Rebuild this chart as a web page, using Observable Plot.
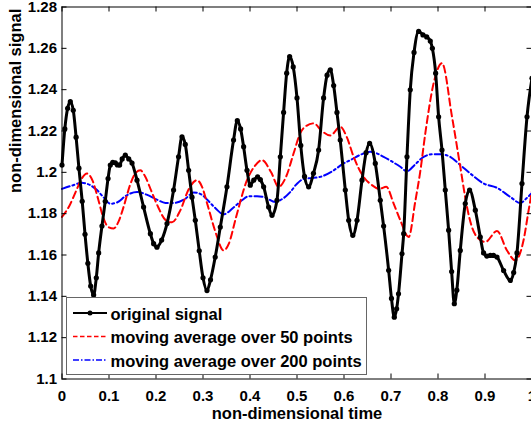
<!DOCTYPE html>
<html><head><meta charset="utf-8">
<script src="https://cdn.jsdelivr.net/npm/d3@7"></script>
<script src="https://cdn.jsdelivr.net/npm/@observablehq/plot@0.6"></script>
<style>
html,body{margin:0;padding:0;overflow:hidden;background:#fff;}
#wrap{position:relative;width:531px;height:427px;overflow:hidden;}
#wrap svg{max-width:none !important;}
#wrap svg.overlay{position:absolute;left:0;top:0;pointer-events:none;}
</style></head><body><div id="wrap"></div>
<script>
// original signal
const sigX = [0, 0.006, 0.012, 0.0177, 0.024, 0.030, 0.036, 0.043, 0.049, 0.055, 0.061, 0.0673, 0.073, 0.078, 0.085, 0.092, 0.098, 0.1028, 0.108, 0.1134, 0.118, 0.1226, 0.128, 0.1347, 0.142, 0.149, 0.1596, 0.1736, 0.188, 0.195, 0.202, 0.212, 0.2234, 0.2374, 0.248, 0.2553, 0.2623, 0.2694, 0.2766, 0.2836, 0.292, 0.300, 0.3085, 0.316, 0.326, 0.3368, 0.351, 0.365, 0.373, 0.380, 0.3864, 0.3936, 0.4006, 0.408, 0.4162, 0.422, 0.429, 0.4396, 0.4468, 0.4574, 0.4645, 0.4715, 0.478, 0.4843, 0.492, 0.500, 0.508, 0.516, 0.5247, 0.535, 0.546, 0.5566, 0.564, 0.5709, 0.578, 0.585, 0.592, 0.6028, 0.61, 0.6187, 0.6277, 0.6383, 0.647, 0.6545, 0.6666, 0.6772, 0.6843, 0.695, 0.701, 0.707, 0.712, 0.716, 0.7234, 0.727, 0.734, 0.741, 0.749, 0.7588, 0.768, 0.776, 0.7836, 0.788, 0.795, 0.8013, 0.8085, 0.8155, 0.8226, 0.829, 0.8347, 0.840, 0.8474, 0.858, 0.8672, 0.8794, 0.89, 0.897, 0.904, 0.9113, 0.918, 0.9255, 0.9396, 0.9538, 0.961, 0.968, 0.9787, 0.9894, 1.0];
const sigY = [1.2035, 1.221, 1.231, 1.2342, 1.230, 1.217, 1.202, 1.186, 1.170, 1.156, 1.145, 1.1407, 1.149, 1.161, 1.174, 1.186, 1.197, 1.2035, 1.2048, 1.2046, 1.2036, 1.2035, 1.2065, 1.2083, 1.2065, 1.2045, 1.1962, 1.1832, 1.1703, 1.1655, 1.1638, 1.1672, 1.1752, 1.1914, 1.2075, 1.2172, 1.2135, 1.201, 1.188, 1.1768, 1.162, 1.149, 1.1428, 1.148, 1.159, 1.1735, 1.193, 1.2156, 1.2250, 1.221, 1.2124, 1.201, 1.1938, 1.1962, 1.1978, 1.1965, 1.193, 1.1832, 1.1792, 1.1865, 1.2075, 1.229, 1.248, 1.256, 1.251, 1.236, 1.213, 1.198, 1.193, 1.1995, 1.2108, 1.236, 1.247, 1.2496, 1.242, 1.229, 1.2156, 1.1914, 1.1768, 1.1695, 1.1768, 1.1962, 1.2095, 1.214, 1.2043, 1.1865, 1.174, 1.1526, 1.139, 1.1299, 1.134, 1.1412, 1.1606, 1.1703, 1.2075, 1.2399, 1.258, 1.2682, 1.2665, 1.2655, 1.2635, 1.2600, 1.248, 1.2269, 1.2108, 1.1914, 1.172, 1.152, 1.1364, 1.143, 1.1622, 1.1849, 1.1914, 1.1817, 1.1687, 1.161, 1.1595, 1.1598, 1.1598, 1.159, 1.1525, 1.1477, 1.1515, 1.161, 1.1946, 1.2269, 1.2455];
// moving average over 50 points
const ma50X = [0, 0.015, 0.03, 0.042, 0.0532, 0.065, 0.077, 0.088, 0.0985, 0.1098, 0.12, 0.132, 0.145, 0.156, 0.1666, 0.177, 0.19, 0.205, 0.22, 0.234, 0.2517, 0.27, 0.2872, 0.298, 0.31, 0.326, 0.3438, 0.355, 0.37, 0.3936, 0.41, 0.4255, 0.445, 0.4609, 0.477, 0.4928, 0.507, 0.52, 0.5354, 0.553, 0.5709, 0.592, 0.606, 0.6205, 0.6417, 0.6596, 0.675, 0.69, 0.7056, 0.7198, 0.7375, 0.7517, 0.762, 0.773, 0.7907, 0.8085, 0.8298, 0.8474, 0.8617, 0.873, 0.883, 0.9006, 0.9255, 0.9468, 0.9645, 0.982, 0.9928, 1.0];
const ma50Y = [1.1784, 1.1835, 1.191, 1.197, 1.1994, 1.196, 1.187, 1.178, 1.1735, 1.1728, 1.176, 1.184, 1.194, 1.1995, 1.201, 1.198, 1.191, 1.183, 1.177, 1.1758, 1.1816, 1.192, 1.1962, 1.193, 1.184, 1.1715, 1.1622, 1.1655, 1.178, 1.1962, 1.203, 1.2059, 1.200, 1.193, 1.198, 1.2092, 1.219, 1.2225, 1.2237, 1.220, 1.2178, 1.2221, 1.217, 1.2075, 1.1978, 1.1938, 1.192, 1.193, 1.1849, 1.1768, 1.1687, 1.186, 1.200, 1.2189, 1.2431, 1.2528, 1.2269, 1.2027, 1.1832, 1.173, 1.1687, 1.1663, 1.1716, 1.1622, 1.1574, 1.1671, 1.1816, 1.191];
// moving average over 200 points
const ma200X = [0, 0.02, 0.0425, 0.06, 0.0745, 0.09, 0.1028, 0.118, 0.135, 0.1596, 0.18, 0.202, 0.22, 0.2374, 0.2623, 0.28, 0.295, 0.31, 0.327, 0.3438, 0.365, 0.383, 0.397, 0.415, 0.4326, 0.4538, 0.47, 0.4858, 0.5, 0.514, 0.53, 0.5496, 0.575, 0.5992, 0.6134, 0.635, 0.656, 0.6843, 0.7, 0.7198, 0.734, 0.75, 0.7694, 0.79, 0.805, 0.826, 0.8474, 0.87, 0.897, 0.9255, 0.9538, 0.975, 0.99, 1.0];
const ma200Y = [1.1920, 1.1935, 1.1949, 1.1938, 1.1914, 1.1875, 1.1848, 1.1855, 1.1885, 1.1905, 1.1892, 1.1868, 1.1852, 1.1852, 1.1872, 1.1903, 1.1895, 1.1865, 1.1825, 1.1797, 1.183, 1.1865, 1.1884, 1.1884, 1.1878, 1.1857, 1.1873, 1.1905, 1.1945, 1.1968, 1.1972, 1.1978, 1.2005, 1.2043, 1.2059, 1.2085, 1.2100, 1.2075, 1.2055, 1.2027, 1.2005, 1.2035, 1.2075, 1.2088, 1.2088, 1.2075, 1.2035, 1.1992, 1.1946, 1.1925, 1.1881, 1.1852, 1.1878, 1.190];

const xTicks = [0, 0.1, 0.2, 0.3, 0.4, 0.5, 0.6, 0.7, 0.8, 0.9, 1];
const xTickLabels = ["0", "0.1", "0.2", "0.3", "0.4", "0.5", "0.6", "0.7", "0.8", "0.9", "1"];
const yTicks = [1.1, 1.12, 1.14, 1.16, 1.18, 1.2, 1.22, 1.24, 1.26, 1.28];
const yTickLabels = ["1.1", "1.12", "1.14", "1.16", "1.18", "1.2", "1.22", "1.24", "1.26", "1.28"];
const seriesNames = ["original signal", "moving average over 50 points", "moving average over 200 points"];
const xLabel = "non-dimensional time";
const yLabel = "non-dimensional signal";

const sig = sigX.map((x, i) => ({x, y: sigY[i]}));
const ma50 = ma50X.map((x, i) => ({x, y: ma50Y[i]}));
const ma200 = ma200X.map((x, i) => ({x, y: ma200Y[i]}));

const FONT = '"Liberation Sans", Arial, Helvetica, sans-serif';
const W = 545, H = 427, ML = 61.5, MR = 13.5, MT = 6.5, MB = 48.5;
const PW = W - ML - MR, PH = H - MT - MB;

const chart = Plot.plot({
  width: W, height: H,
  marginLeft: ML, marginRight: MR, marginTop: MT, marginBottom: MB,
  style: {fontFamily: FONT, background: "white", color: "black", overflow: "visible", maxWidth: "none", width: W + "px", height: H + "px"},
  x: {domain: [0, 1]},
  y: {domain: [1.1, 1.28]},
  marks: [
    Plot.line(ma200, {x: "x", y: "y", stroke: "#0000ff", strokeWidth: 2, strokeDasharray: "8,3,2,3", curve: "monotone-x"}),
    Plot.line(ma50, {x: "x", y: "y", stroke: "#ff0000", strokeWidth: 2, strokeDasharray: "7,4", curve: "monotone-x"}),
    Plot.line(sig, {x: "x", y: "y", stroke: "black", strokeWidth: 3, curve: "monotone-x"}),
    Plot.dot(sig, {x: "x", y: "y", r: 2.6, fill: "black", stroke: "none"}),
    Plot.frame({stroke: "black", strokeWidth: 1}),
    Plot.tickX(xTicks, {x: d => d, insetTop: PH - 5, stroke: "black"}),
    Plot.tickX(xTicks, {x: d => d, insetBottom: PH - 5, stroke: "black"}),
    Plot.tickY(yTicks, {y: d => d, insetRight: PW - 5, stroke: "black"}),
    Plot.tickY(yTicks, {y: d => d, insetLeft: PW - 5, stroke: "black"}),
    Plot.axisX({ticks: xTicks, tickSize: 0, tickPadding: 11.5, label: null, fontSize: 15, fontWeight: "bold",
      tickFormat: d => xTickLabels[xTicks.indexOf(d)]}),
    Plot.axisY({ticks: yTicks, tickSize: 0, tickPadding: 5, label: null, fontSize: 15, fontWeight: "bold",
      tickFormat: d => yTickLabels[yTicks.indexOf(d)]}),
    Plot.text([xLabel], {text: d => d, frameAnchor: "bottom", dy: 34.5, lineAnchor: "middle", fontSize: 16.5, fontWeight: "bold"}),
    Plot.text([yLabel], {text: d => d, frameAnchor: "left", rotate: -90, dx: -46.5, lineAnchor: "middle", fontSize: 16.5, fontWeight: "bold"})
  ]
});
chart.style.maxWidth = "none";
document.getElementById("wrap").appendChild(chart);

// legend overlay
const NS = "http://www.w3.org/2000/svg";
const lg = d3.select("#wrap").append(() => document.createElementNS(NS, "svg"))
  .attr("class", "overlay").attr("width", 531).attr("height", 427);
lg.append("rect").attr("x", 66.5).attr("y", 297.5).attr("width", 300).attr("height", 77)
  .attr("fill", "white").attr("stroke", "#666").attr("stroke-width", 1);
const rows = [
  {y: 313, stroke: "black", dash: null, w: 2, dot: true},
  {y: 336.5, stroke: "#ff0000", dash: "4.5,2.5", w: 1.5, dot: false},
  {y: 360, stroke: "#0000ff", dash: "6,2,1.5,2", w: 1.5, dot: false}
];
rows.forEach((r, i) => {
  lg.append("line").attr("x1", 73).attr("x2", 107).attr("y1", r.y).attr("y2", r.y)
    .attr("stroke", r.stroke).attr("stroke-width", r.w).attr("stroke-dasharray", r.dash);
  if (r.dot) lg.append("circle").attr("cx", 90).attr("cy", r.y).attr("r", 2.5).attr("fill", "black");
  lg.append("text").attr("x", 110.5).attr("y", r.y + 6.5).text(seriesNames[i])
    .attr("font-family", FONT).attr("font-size", 16.5).attr("font-weight", "bold").attr("fill", "black");
});
</script>
</body></html>
